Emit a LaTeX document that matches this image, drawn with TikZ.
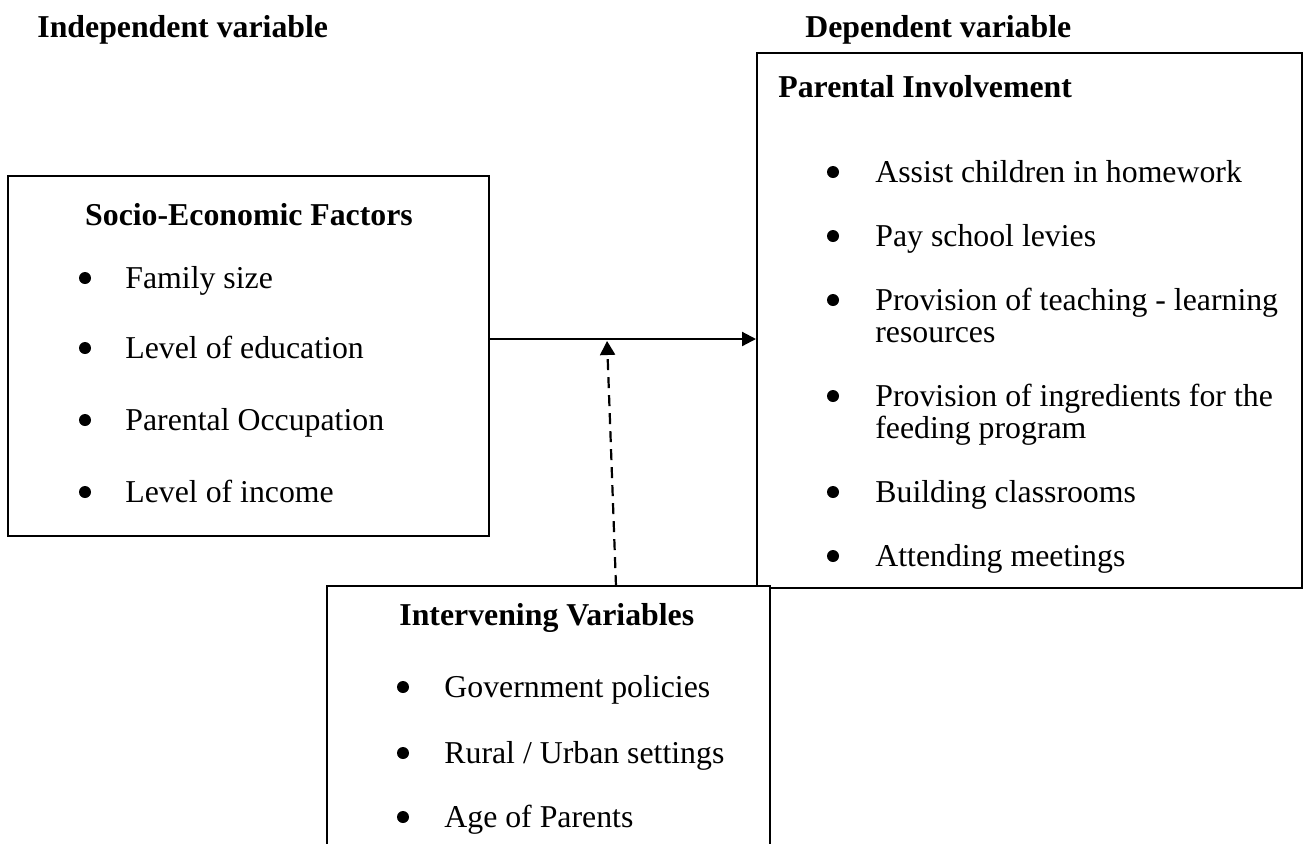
\documentclass[tikz,border=0pt]{standalone}
\usepackage{fontspec}
\setmainfont{Liberation Serif}
\usetikzlibrary{arrows.meta}
\begin{document}
\begin{tikzpicture}[x=0.5pt,y=-0.5pt,
  box/.style={draw,line width=1pt,fill=white,inner sep=0pt,rectangle},
  txt/.style={anchor=base west,inner sep=0pt,font=\fontsize{15.9}{19}\selectfont},
  hd/.style={anchor=base west,inner sep=0pt,font=\fontsize{15.9}{19}\selectfont\bfseries},
  bul/.style={fill=black},
  arr/.style={line width=1.1pt,-{Triangle[length=7pt,width=7pt]}},
  darr/.style={line width=1.1pt,dash pattern=on 5.5pt off 3.5pt,-{Triangle[length=7pt,width=7.5pt]}}]
\useasboundingbox (0,0) rectangle (1303,843);
\clip (0,0) rectangle (1303,843);

% titles
\node[hd] (tind) at (37,37) {Independent variable};
\node[hd] (tdep) at (805,37) {Dependent variable};

% right box (dependent)
\node[box,minimum width=272.5pt,minimum height=267.5pt] (right) at (1029.5,320.5) {};
\node[hd] (rh) at (778,97) {Parental Involvement};
\foreach \y in {182,246,310,406,502,566} {\fill[bul] (833,\y-10) circle[radius=3pt];}
\node[txt] (r1) at (875,182) {Assist children in homework};
\node[txt] (r2) at (875,246) {Pay school levies};
\node[txt] (r3) at (875,310) {Provision of teaching - learning};
\node[txt] (r3b) at (875,342) {resources};
\node[txt] (r4) at (875,406) {Provision of ingredients for the};
\node[txt] (r4b) at (875,438) {feeding program};
\node[txt] (r5) at (875,502) {Building classrooms};
\node[txt] (r6) at (875,566) {Attending meetings};

% left box (independent)
\node[box,minimum width=240.5pt,minimum height=180pt] (left) at (248.5,356) {};
\node[hd,anchor=base] (lh) at (249,225) {Socio-Economic Factors};
\foreach \y in {288,358,430,502} {\fill[bul] (85,\y-10) circle[radius=3pt];}
\node[txt] (l1) at (125,288) {Family size};
\node[txt] (l2) at (125,358) {Level of education};
\node[txt] (l3) at (125,430) {Parental Occupation};
\node[txt] (l4) at (125,502) {Level of income};

% connectors
\coordinate (j) at (607,339);
\coordinate (dstart) at (616,586);
\draw[arr] (left.east |- j) -- (right.west |- j);
\draw[darr,shorten >=1pt] (dstart) -- (j);

% intervening box
\node[box,minimum width=221.5pt,minimum height=157pt] (inter) at (548.5,743) {};
\node[hd] (ih) at (399,625) {Intervening Variables};
\foreach \y in {697,763,827} {\fill[bul] (403,\y-10) circle[radius=3pt];}
\node[txt] (i1) at (444,697) {Government policies};
\node[txt] (i2) at (444,763) {Rural / Urban settings};
\node[txt] (i3) at (444,827) {Age of Parents};
\end{tikzpicture}
\end{document}
